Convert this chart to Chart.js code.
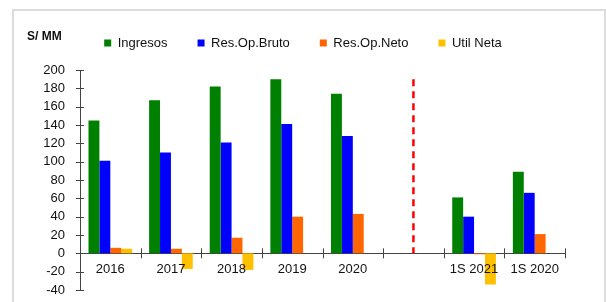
<!DOCTYPE html>
<html lang="es">
<head>
<meta charset="UTF-8">
<title>Ingresos y resultados</title>
<script src="https://cdn.jsdelivr.net/npm/chart.js"></script>
<style>
  body { margin: 0; background: #fff; }
  #wrap { position: relative; width: 606px; height: 302px; }
  #frame {
    position: absolute; left: 12px; top: 9px; width: 590px; height: 300px;
    border: 2px solid #dcdcdc; border-bottom: none;
  }
  #chart { position: absolute; left: 0; top: 0; }
</style>
</head>
<body>
<div id="wrap">
  <div id="frame"></div>
  <canvas id="chart" width="606" height="302"></canvas>
</div>

<script>
// datos (S/ MM)
const categories = ['2016', '2017', '2018', '2019', '2020', '', '1S 2021', '1S 2020'];
const ingresos   = [145, 167, 182, 190, 174, null, 61, 89];
const resOpBruto = [101, 110, 121, 141, 128, null, 40, 66];
const resOpNeto  = [6, 5, 17, 40, 43, null, -1, 21];
const utilNeta   = [5, -17, -18, null, null, null, -34, null];
const yTicks = { min: -40, max: 200, step: 20 };
const unitLabel = 'S/ MM';
const dividerIndex = 5;      // hueco entre anual y semestral
const dividerRange = [0, 190];

const FONT = "'Liberation Sans', Arial, sans-serif";
Chart.defaults.font.family = FONT;
Chart.defaults.font.size = 13;
Chart.defaults.color = '#111';

// leyenda dibujada a mano (la de Chart.js ocupa demasiado alto con padding grande)
const legendPlugin = {
  id: 'manualLegend',
  afterDraw(chart) {
    const ctx = chart.ctx;
    ctx.save();
    ctx.font = '13px ' + FONT;
    ctx.textBaseline = 'middle';
    const box = 7, gap = 6.5, spacing = 30, cy = 43;
    const items = chart.data.datasets.map(d => ({
      text: d.label, color: d.backgroundColor,
      w: box + gap + ctx.measureText(d.label).width
    }));
    const total = items.reduce((s, it) => s + it.w, 0) + spacing * (items.length - 1);
    let x = chart.width / 2 - total / 2;
    items.forEach(it => {
      ctx.fillStyle = it.color;
      ctx.fillRect(x, cy - box / 2, box, box);
      ctx.fillStyle = '#111';
      ctx.fillText(it.text, x + box + gap, cy);
      x += it.w + spacing;
    });
    // unidad
    ctx.font = 'bold 12px ' + FONT;
    ctx.fillText(unitLabel, 27, 37);
    ctx.restore();
  }
};

// marcas de eje cruzadas y linea roja punteada
const axisPlugin = {
  id: 'axisMarks',
  afterDatasetsDraw(chart) {
    const ctx = chart.ctx;
    const xs = chart.scales.x, ys = chart.scales.y;
    const x0 = ys.right, y0 = ys.getPixelForValue(0);
    ctx.save();
    ctx.strokeStyle = '#444';
    ctx.lineWidth = 1;
    ctx.beginPath();
    for (let v = yTicks.min; v <= yTicks.max; v += yTicks.step) {
      const py = Math.round(ys.getPixelForValue(v)) + 0.5;
      ctx.moveTo(x0 - 4, py); ctx.lineTo(x0 + 4, py);
    }
    for (let i = 1; i <= categories.length; i++) {
      const px = Math.round(xs.getPixelForValue(i - 0.5)) + 0.5;
      ctx.moveTo(px, y0 - 5); ctx.lineTo(px, y0 + 5);
    }
    ctx.stroke();

    const dx = xs.getPixelForValue(dividerIndex);
    ctx.strokeStyle = '#ff0000';
    ctx.lineWidth = 2.5;
    ctx.setLineDash([7, 5]);
    ctx.beginPath();
    ctx.moveTo(dx, ys.getPixelForValue(dividerRange[1]));
    ctx.lineTo(dx, ys.getPixelForValue(dividerRange[0]));
    ctx.stroke();
    ctx.restore();
  }
};

const data = {
  labels: categories,
  datasets: [
    { label: 'Ingresos',     data: ingresos,   backgroundColor: '#008000' },
    { label: 'Res.Op.Bruto', data: resOpBruto, backgroundColor: '#0000ff' },
    { label: 'Res.Op.Neto',  data: resOpNeto,  backgroundColor: '#ff6600' },
    { label: 'Util Neta',    data: utilNeta,   backgroundColor: '#ffc000' }
  ]
};

const config = {
  type: 'bar',
  data: data,
  options: {
    responsive: false,
    animation: false,
    devicePixelRatio: 1,
    categoryPercentage: 0.72,
    barPercentage: 1.0,
    layout: { padding: { top: 70, right: 41, bottom: 12, left: 0 } },
    plugins: {
      legend: { display: false },
      tooltip: { enabled: false }
    },
    scales: {
      x: {
        position: { y: 0 },
        grid: { display: false },
        border: { display: true, color: '#444', width: 1 },
        // z: 1 -> etiquetas por encima de las barras negativas
        ticks: { padding: 0, maxRotation: 0, autoSkip: false, z: 1 },
        afterFit(scale) { scale.height = 0; }
      },
      y: {
        min: yTicks.min,
        max: yTicks.max,
        grid: { display: false },
        border: { display: true, color: '#444', width: 1 },
        ticks: { stepSize: yTicks.step, padding: 7, autoSkip: false },
        afterFit(scale) { scale.width = 80; scale.paddingTop = 0; scale.paddingBottom = 0; }
      }
    }
  },
  plugins: [legendPlugin, axisPlugin]
};

const chart = new Chart(document.getElementById('chart').getContext('2d'), config);
</script>
</body>
</html>
